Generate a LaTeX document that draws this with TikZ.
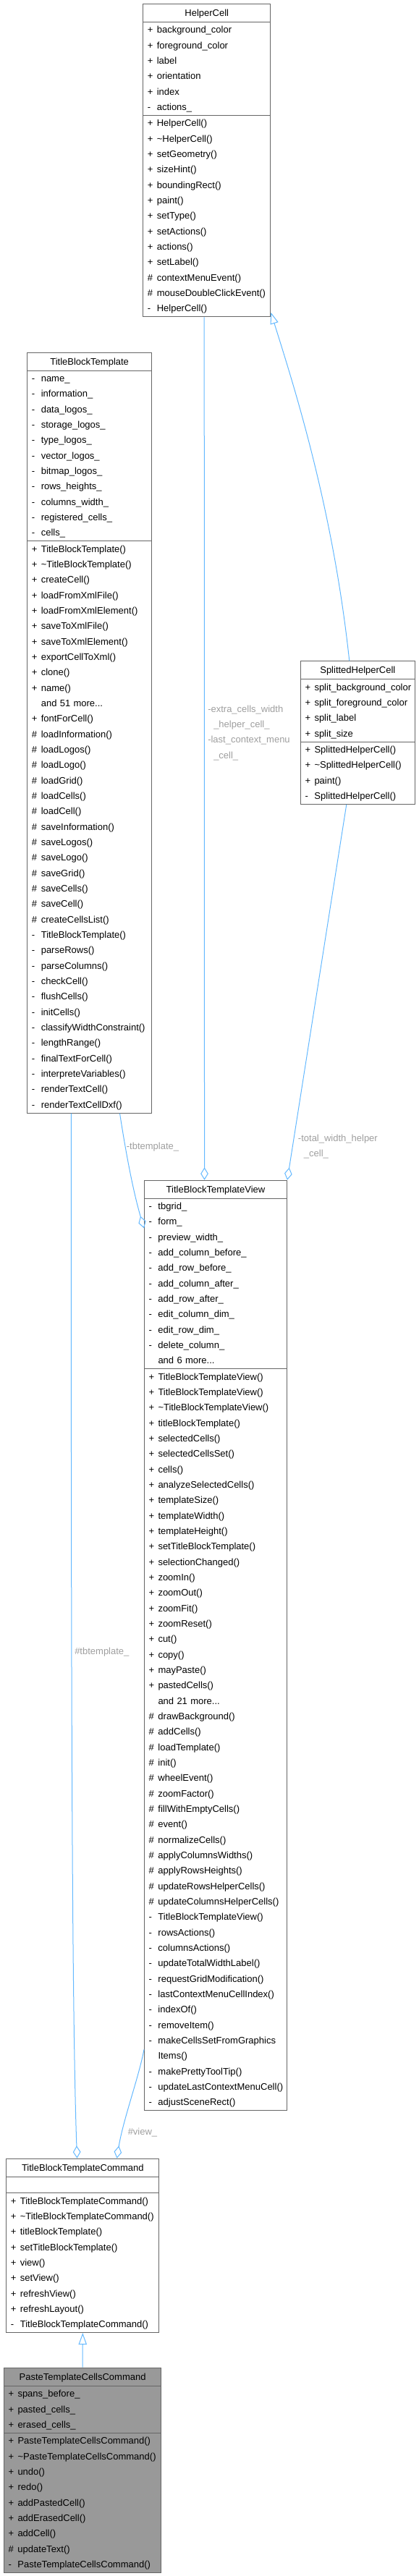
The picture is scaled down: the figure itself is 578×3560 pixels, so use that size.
\documentclass[tikz,border=0pt]{standalone}
\usepackage{fontspec}
\setmainfont{Liberation Sans}
\usetikzlibrary{shapes.multipart,arrows.meta}
\definecolor{edgeblue}{HTML}{63B8FF}
\definecolor{boxgray}{HTML}{666666}
\definecolor{labelgray}{HTML}{9E9E9E}
\definecolor{curfill}{HTML}{999999}
\newcommand{\mrow}[2]{\makebox[9.75pt][l]{#1}#2\strut}
\newcommand{\ctitle}[1]{\makebox[\hsize][c]{#1\rule[-5.6pt]{0pt}{18pt}}}
\begin{document}
\begin{tikzpicture}[
    x=0.75pt,
    y=-0.75pt,
    every node/.style={font=\fontsize{9.75}{16}\selectfont},
    classbox/.style={
        draw=boxgray,
        fill=white,
        line width=0.75pt,
        rectangle split,
        rectangle split parts=3,
        anchor=north west,
        align=left,
        text width=#1,
        inner xsep=4.5pt,
        inner ysep=0pt},
    aggr/.style={
        draw=edgeblue,
        line width=0.75pt,
        -{Diamond[open,length=13pt,width=8pt]}},
    inherit/.style={
        draw=edgeblue,
        line width=0.75pt,
        -{Triangle[open,length=12pt,width=8.5pt]}},
    elabel/.style={
        text=labelgray,
        align=left,
        inner sep=0pt}]
    \useasboundingbox (0,0) rectangle (578,3560);

    \node[classbox=123pt] (HelperCell) at (197.3,5) {\ctitle{HelperCell}
        \nodepart{second}
        \mrow{+}{background\_color}\\
        \mrow{+}{foreground\_color}\\
        \mrow{+}{label}\\
        \mrow{+}{orientation}\\
        \mrow{+}{index}\\
        \mrow{-}{actions\_}
        \nodepart{third}
        \mrow{+}{HelperCell()}\\
        \mrow{+}{\textasciitilde HelperCell()}\\
        \mrow{+}{setGeometry()}\\
        \mrow{+}{sizeHint()}\\
        \mrow{+}{boundingRect()}\\
        \mrow{+}{paint()}\\
        \mrow{+}{setType()}\\
        \mrow{+}{setActions()}\\
        \mrow{+}{actions()}\\
        \mrow{+}{setLabel()}\\
        \mrow{\#}{contextMenuEvent()}\\
        \mrow{\#}{mouseDoubleClickEvent()}\\
        \mrow{-}{HelperCell()}};

    \node[classbox=119.8pt] (TBT) at (37.3,486.7) {\ctitle{TitleBlockTemplate}
        \nodepart{second}
        \mrow{-}{name\_}\\
        \mrow{-}{information\_}\\
        \mrow{-}{data\_logos\_}\\
        \mrow{-}{storage\_logos\_}\\
        \mrow{-}{type\_logos\_}\\
        \mrow{-}{vector\_logos\_}\\
        \mrow{-}{bitmap\_logos\_}\\
        \mrow{-}{rows\_heights\_}\\
        \mrow{-}{columns\_width\_}\\
        \mrow{-}{registered\_cells\_}\\
        \mrow{-}{cells\_}
        \nodepart{third}
        \mrow{+}{TitleBlockTemplate()}\\
        \mrow{+}{\textasciitilde TitleBlockTemplate()}\\
        \mrow{+}{createCell()}\\
        \mrow{+}{loadFromXmlFile()}\\
        \mrow{+}{loadFromXmlElement()}\\
        \mrow{+}{saveToXmlFile()}\\
        \mrow{+}{saveToXmlElement()}\\
        \mrow{+}{exportCellToXml()}\\
        \mrow{+}{clone()}\\
        \mrow{+}{name()}\\
        \mrow{}{and 51 more...}\\
        \mrow{+}{fontForCell()}\\
        \mrow{\#}{loadInformation()}\\
        \mrow{\#}{loadLogos()}\\
        \mrow{\#}{loadLogo()}\\
        \mrow{\#}{loadGrid()}\\
        \mrow{\#}{loadCells()}\\
        \mrow{\#}{loadCell()}\\
        \mrow{\#}{saveInformation()}\\
        \mrow{\#}{saveLogos()}\\
        \mrow{\#}{saveLogo()}\\
        \mrow{\#}{saveGrid()}\\
        \mrow{\#}{saveCells()}\\
        \mrow{\#}{saveCell()}\\
        \mrow{\#}{createCellsList()}\\
        \mrow{-}{TitleBlockTemplate()}\\
        \mrow{-}{parseRows()}\\
        \mrow{-}{parseColumns()}\\
        \mrow{-}{checkCell()}\\
        \mrow{-}{flushCells()}\\
        \mrow{-}{initCells()}\\
        \mrow{-}{classifyWidthConstraint()}\\
        \mrow{-}{lengthRange()}\\
        \mrow{-}{finalTextForCell()}\\
        \mrow{-}{interpreteVariables()}\\
        \mrow{-}{renderTextCell()}\\
        \mrow{-}{renderTextCellDxf()}};

    \node[classbox=109.3pt] (SHC) at (415,913.3) {\ctitle{SplittedHelperCell}
        \nodepart{second}
        \mrow{+}{split\_background\_color}\\
        \mrow{+}{split\_foreground\_color}\\
        \mrow{+}{split\_label}\\
        \mrow{+}{split\_size}
        \nodepart{third}
        \mrow{+}{SplittedHelperCell()}\\
        \mrow{+}{\textasciitilde SplittedHelperCell()}\\
        \mrow{+}{paint()}\\
        \mrow{-}{SplittedHelperCell()}};

    \node[classbox=138.75pt] (TBTV) at (199,1630.7) {\ctitle{TitleBlockTemplateView}
        \nodepart{second}
        \mrow{-}{tbgrid\_}\\
        \mrow{-}{form\_}\\
        \mrow{-}{preview\_width\_}\\
        \mrow{-}{add\_column\_before\_}\\
        \mrow{-}{add\_row\_before\_}\\
        \mrow{-}{add\_column\_after\_}\\
        \mrow{-}{add\_row\_after\_}\\
        \mrow{-}{edit\_column\_dim\_}\\
        \mrow{-}{edit\_row\_dim\_}\\
        \mrow{-}{delete\_column\_}\\
        \mrow{}{and 6 more...}
        \nodepart{third}
        \mrow{+}{TitleBlockTemplateView()}\\
        \mrow{+}{TitleBlockTemplateView()}\\
        \mrow{+}{\textasciitilde TitleBlockTemplateView()}\\
        \mrow{+}{titleBlockTemplate()}\\
        \mrow{+}{selectedCells()}\\
        \mrow{+}{selectedCellsSet()}\\
        \mrow{+}{cells()}\\
        \mrow{+}{analyzeSelectedCells()}\\
        \mrow{+}{templateSize()}\\
        \mrow{+}{templateWidth()}\\
        \mrow{+}{templateHeight()}\\
        \mrow{+}{setTitleBlockTemplate()}\\
        \mrow{+}{selectionChanged()}\\
        \mrow{+}{zoomIn()}\\
        \mrow{+}{zoomOut()}\\
        \mrow{+}{zoomFit()}\\
        \mrow{+}{zoomReset()}\\
        \mrow{+}{cut()}\\
        \mrow{+}{copy()}\\
        \mrow{+}{mayPaste()}\\
        \mrow{+}{pastedCells()}\\
        \mrow{}{and 21 more...}\\
        \mrow{\#}{drawBackground()}\\
        \mrow{\#}{addCells()}\\
        \mrow{\#}{loadTemplate()}\\
        \mrow{\#}{init()}\\
        \mrow{\#}{wheelEvent()}\\
        \mrow{\#}{zoomFactor()}\\
        \mrow{\#}{fillWithEmptyCells()}\\
        \mrow{\#}{event()}\\
        \mrow{\#}{normalizeCells()}\\
        \mrow{\#}{applyColumnsWidths()}\\
        \mrow{\#}{applyRowsHeights()}\\
        \mrow{\#}{updateRowsHelperCells()}\\
        \mrow{\#}{updateColumnsHelperCells()}\\
        \mrow{-}{TitleBlockTemplateView()}\\
        \mrow{-}{rowsActions()}\\
        \mrow{-}{columnsActions()}\\
        \mrow{-}{updateTotalWidthLabel()}\\
        \mrow{-}{requestGridModification()}\\
        \mrow{-}{lastContextMenuCellIndex()}\\
        \mrow{-}{indexOf()}\\
        \mrow{-}{removeItem()}\\
        \mrow{-}{makeCellsSetFromGraphics}\\
        \mrow{}{Items()}\\
        \mrow{-}{makePrettyToolTip()}\\
        \mrow{-}{updateLastContextMenuCell()}\\
        \mrow{-}{adjustSceneRect()}};

    \node[classbox=149.25pt] (TBTC) at (8.3,2982.7) {\ctitle{TitleBlockTemplateCommand}
        \nodepart{second}
        \strut
        \nodepart{third}
        \mrow{+}{TitleBlockTemplateCommand()}\\
        \mrow{+}{\textasciitilde TitleBlockTemplateCommand()}\\
        \mrow{+}{titleBlockTemplate()}\\
        \mrow{+}{setTitleBlockTemplate()}\\
        \mrow{+}{view()}\\
        \mrow{+}{setView()}\\
        \mrow{+}{refreshView()}\\
        \mrow{+}{refreshLayout()}\\
        \mrow{-}{TitleBlockTemplateCommand()}};

    \node[classbox=153.975pt, fill=curfill] (PTCC) at (5,3271.7) {\ctitle{PasteTemplateCellsCommand}
        \nodepart{second}
        \mrow{+}{spans\_before\_}\\
        \mrow{+}{pasted\_cells\_}\\
        \mrow{+}{erased\_cells\_}
        \nodepart{third}
        \mrow{+}{PasteTemplateCellsCommand()}\\
        \mrow{+}{\textasciitilde PasteTemplateCellsCommand()}\\
        \mrow{+}{undo()}\\
        \mrow{+}{redo()}\\
        \mrow{+}{addPastedCell()}\\
        \mrow{+}{addErasedCell()}\\
        \mrow{+}{addCell()}\\
        \mrow{\#}{updateText()}\\
        \mrow{-}{PasteTemplateCellsCommand()}};

    \draw[inherit] ([xshift=-8.7pt]SHC.north) .. controls (460,700) and (405,530) .. ([yshift=5pt]HelperCell.south east);
    \draw[aggr] ([xshift=-2.7pt]HelperCell.south) -- ([xshift=-11.6pt]TBTV.north);
    \draw[aggr] ([xshift=-11.7pt]SHC.south) -- (TBTV.north east);
    \draw[aggr] ([xshift=31.4pt]TBT.south) .. controls (175,1600) and (185,1650) .. ([yshift=-50pt]TBTV.north west);
    \draw[aggr] ([xshift=-18.9pt]TBT.south) .. controls (98,2400) and (100,2800) .. ([xshift=-5.85pt]TBTC.north);
    \draw[aggr] ([yshift=63.75pt]TBTV.south west) .. controls (192,2870) and (170,2930) .. ([xshift=35.4pt]TBTC.north);
    \draw[inherit] (PTCC.north) -- (TBTC.south);

    \node[elabel, anchor=west] (lblExtra) at (287,1012) {-extra\_cells\_width\strut\\\hspace*{6pt}\_helper\_cell\_\strut\\-last\_context\_menu\strut\\\hspace*{6pt}\_cell\_\strut};
    \node[elabel, anchor=west] (lblTotal) at (411.7,1584) {-total\_width\_helper\strut\\\hspace*{6pt}\_cell\_\strut};
    \node[elabel] (lblTbtV) at (211,1585) {-tbtemplate\_};
    \node[elabel, anchor=west] (lblTbtC) at (103,2283) {\#tbtemplate\_};
    \node[elabel] (lblView) at (197,2947) {\#view\_};
\end{tikzpicture}
\end{document}
